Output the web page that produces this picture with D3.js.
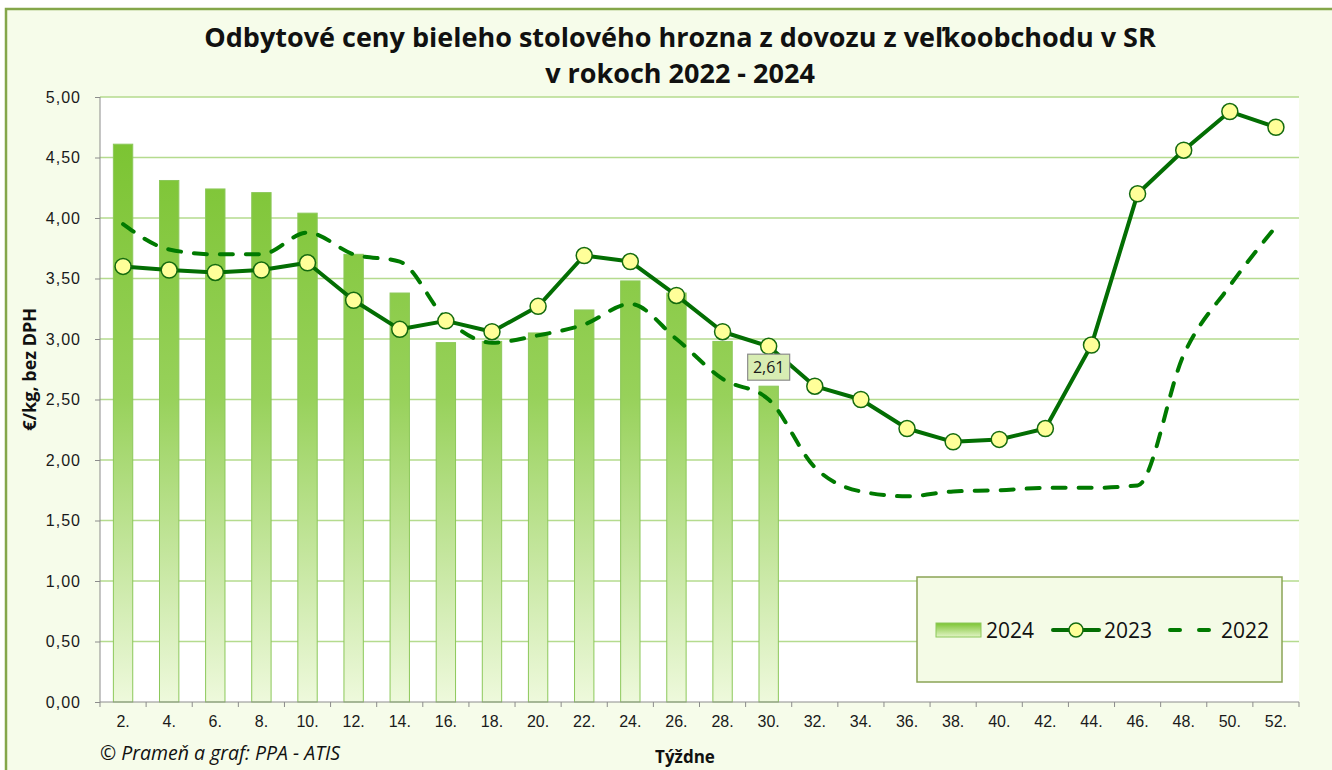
<!DOCTYPE html>
<html>
<head>
<meta charset="UTF-8">
<title>Odbytové ceny bieleho stolového hrozna</title>
<script src="https://cdn.jsdelivr.net/npm/d3@7"></script>
<style>
  body { margin: 0; background: #fff; }
  svg { display: block; font-family: "Open Sans", "Noto Sans", sans-serif; }
</style>
</head>
<body>
<svg width="1332" height="770"></svg>
<script>
// weeks on the x axis
var weeks = ["2.", "4.", "6.", "8.", "10.", "12.", "14.", "16.", "18.", "20.", "22.", "24.", "26.",
             "28.", "30.", "32.", "34.", "36.", "38.", "40.", "42.", "44.", "46.", "48.", "50.", "52."];

// 2024 bars (only up to week 30)
var y2024 = [4.61, 4.31, 4.24, 4.21, 4.04, 3.70, 3.38, 2.97, 2.98, 3.05, 3.24, 3.48, 3.38, 2.98, 2.61];

// 2023 line with markers
var y2023 = [3.60, 3.57, 3.55, 3.57, 3.63, 3.32, 3.08, 3.15, 3.06, 3.27, 3.69, 3.64, 3.36,
             3.06, 2.94, 2.61, 2.50, 2.26, 2.15, 2.17, 2.26, 2.95, 4.20, 4.56, 4.88, 4.75];

// 2022 dashed smooth line
var y2022 = [3.95, 3.74, 3.70, 3.70, 3.88, 3.70, 3.64, 3.17, 2.97, 3.03, 3.12, 3.29, 3.00,
             2.67, 2.50, 1.94, 1.74, 1.70, 1.74, 1.75, 1.77, 1.77, 1.79, 2.87, 3.44, 3.93];

var yTicks = [0, 0.5, 1, 1.5, 2, 2.5, 3, 3.5, 4, 4.5, 5];

var svg = d3.select("svg");
var margin = {left: 100, top: 97, right: 1299, bottom: 702};
var fmt = function(v) { return d3.format(".2f")(v).replace(".", ","); };

// chart area
svg.append("rect")
  .attr("x", 6).attr("y", 9).attr("width", 1340).attr("height", 780)
  .attr("fill", "#f6fcea").attr("stroke", "#84a64a").attr("stroke-width", 2.5);

// plot area
svg.append("rect")
  .attr("x", margin.left).attr("y", margin.top)
  .attr("width", margin.right - margin.left).attr("height", margin.bottom - margin.top)
  .attr("fill", "#ffffff");

var x = d3.scaleBand().domain(weeks).range([margin.left, margin.right]);
var y = d3.scaleLinear().domain([0, 5]).range([margin.bottom, margin.top]);

// gridlines
svg.append("g").selectAll("line")
  .data(yTicks.filter(function(d) { return d > 0; }))
  .enter().append("line")
  .attr("x1", margin.left).attr("x2", margin.right)
  .attr("y1", function(d) { return y(d); }).attr("y2", function(d) { return y(d); })
  .attr("stroke", "#b5db8e").attr("stroke-width", 1.5);

// bar gradient
var defs = svg.append("defs");
var grad = defs.append("linearGradient").attr("id", "barGrad")
  .attr("gradientUnits", "userSpaceOnUse")
  .attr("x1", 0).attr("y1", y(4.6)).attr("x2", 0).attr("y2", y(0));
grad.append("stop").attr("offset", "0%").attr("stop-color", "#7cc433");
grad.append("stop").attr("offset", "45%").attr("stop-color", "#97d15a");
grad.append("stop").attr("offset", "100%").attr("stop-color", "#eef9dc");

var lgGrad = defs.append("linearGradient").attr("id", "legGrad")
  .attr("x1", 0).attr("y1", 0).attr("x2", 0).attr("y2", 1);
lgGrad.append("stop").attr("offset", "0%").attr("stop-color", "#7cc433");
lgGrad.append("stop").attr("offset", "100%").attr("stop-color", "#e2f4c6");

var barW = x.bandwidth() * 0.42;
svg.append("g").selectAll("rect")
  .data(y2024)
  .enter().append("rect")
  .attr("x", function(d, i) { return x(weeks[i]) + (x.bandwidth() - barW) / 2; })
  .attr("y", function(d) { return y(d); })
  .attr("width", barW)
  .attr("height", function(d) { return y(0) - y(d); })
  .attr("fill", "url(#barGrad)")
  .attr("stroke", "#8cc85a").attr("stroke-width", 1);

// axes
var yAxis = svg.append("g")
  .attr("transform", "translate(" + margin.left + ",0)")
  .call(d3.axisLeft(y).tickValues(yTicks).tickFormat(fmt).tickSize(5).tickPadding(14));
yAxis.select(".domain").attr("stroke", "#8c8c8c").attr("d", "M0," + margin.top + "V" + margin.bottom);
yAxis.selectAll(".tick line").attr("stroke", "#8c8c8c");
yAxis.selectAll(".tick text").attr("fill", "#1a1a1a").style("font-size", "16px").style("letter-spacing", "1px");

var xAxis = svg.append("g")
  .attr("transform", "translate(0," + margin.bottom + ")")
  .call(d3.axisBottom(x).tickSize(0).tickPadding(14));
xAxis.select(".domain").attr("stroke", "#8c8c8c").attr("d", "M" + margin.left + ",0H" + margin.right);
xAxis.selectAll(".tick text").attr("fill", "#1a1a1a").style("font-size", "16px");

// x tick marks between categories
svg.append("g").selectAll("line")
  .data(d3.range(weeks.length + 1))
  .enter().append("line")
  .attr("x1", function(i) { return margin.left + i * x.step(); })
  .attr("x2", function(i) { return margin.left + i * x.step(); })
  .attr("y1", margin.bottom).attr("y2", margin.bottom + 5)
  .attr("stroke", "#8c8c8c");

var cx = function(d, i) { return x(weeks[i]) + x.bandwidth() / 2; };
var green = "#007a00";

// 2022 dashed smooth line
svg.append("path")
  .datum(y2022)
  .attr("d", d3.line().x(cx).y(function(d) { return y(d); }).curve(d3.curveMonotoneX))
  .attr("fill", "none").attr("stroke", green).attr("stroke-width", 4)
  .attr("stroke-dasharray", "13,13").attr("stroke-linecap", "round");

// 2023 line
svg.append("path")
  .datum(y2023)
  .attr("d", d3.line().x(cx).y(function(d) { return y(d); }))
  .attr("fill", "none").attr("stroke", "#036e03").attr("stroke-width", 4).attr("stroke-linejoin", "round");

svg.append("g").selectAll("circle")
  .data(y2023)
  .enter().append("circle")
  .attr("cx", cx).attr("cy", function(d) { return y(d); })
  .attr("r", 8)
  .attr("fill", "#ffff99").attr("stroke", "#146b0f").attr("stroke-width", 1.5);

// data label for last 2024 bar
var last = y2024.length - 1;
var lx = cx(null, last), ly = y(y2024[last]) - 19;
svg.append("rect")
  .attr("x", lx - 21).attr("y", ly - 13).attr("width", 42).attr("height", 26)
  .attr("fill", "#d8edb3").attr("stroke", "#8c8c8c").attr("stroke-width", 1.2);
svg.append("text")
  .attr("x", lx).attr("y", ly + 6).attr("text-anchor", "middle")
  .style("font-size", "16px").attr("fill", "#1a1a1a")
  .text(fmt(y2024[last]));

// title
var title = svg.append("text").attr("text-anchor", "middle")
  .style("font-size", "27px").style("font-weight", "bold").attr("fill", "#111");
title.append("tspan").attr("x", 680).attr("y", 47)
  .text("Odbytové ceny bieleho stolového hrozna z dovozu z veľkoobchodu v SR");
title.append("tspan").attr("x", 680).attr("y", 83).text("v rokoch 2022 - 2024");

// axis titles
svg.append("text")
  .attr("transform", "translate(36," + y(2.75) + ") rotate(-90)")
  .attr("text-anchor", "middle")
  .style("font-size", "18px").style("font-weight", "bold").attr("fill", "#111")
  .text("€/kg, bez DPH");

svg.append("text")
  .attr("x", 685).attr("y", 763).attr("text-anchor", "middle")
  .style("font-size", "17px").style("font-weight", "bold").attr("fill", "#111")
  .text("Týždne");

svg.append("text")
  .attr("x", 100).attr("y", 760)
  .style("font-size", "19.5px").style("font-style", "italic").attr("fill", "#111")
  .text("© Prameň a graf: PPA - ATIS");

// legend
var leg = svg.append("g").attr("transform", "translate(917,577)");
leg.append("rect").attr("width", 365).attr("height", 105)
  .attr("fill", "#f4fbe6").attr("stroke", "#8ba456").attr("stroke-width", 1.5);
var ly0 = 53;
leg.append("rect").attr("x", 19).attr("y", ly0 - 7).attr("width", 45).attr("height", 14)
  .attr("fill", "url(#legGrad)").attr("stroke", "#8cc85a");
leg.append("text").attr("x", 69).attr("y", ly0 + 8).style("font-size", "21px").attr("fill", "#111").text("2024");
leg.append("line").attr("x1", 136).attr("x2", 182).attr("y1", ly0).attr("y2", ly0)
  .attr("stroke", "#036e03").attr("stroke-width", 4).attr("stroke-linecap", "round");
leg.append("circle").attr("cx", 159).attr("cy", ly0).attr("r", 7)
  .attr("fill", "#ffff99").attr("stroke", "#146b0f").attr("stroke-width", 1.5);
leg.append("text").attr("x", 187).attr("y", ly0 + 8).style("font-size", "21px").attr("fill", "#111").text("2023");
leg.append("line").attr("x1", 253).attr("x2", 296).attr("y1", ly0).attr("y2", ly0)
  .attr("stroke", green).attr("stroke-width", 4).attr("stroke-linecap", "round")
  .attr("stroke-dasharray", "10,19");
leg.append("text").attr("x", 304).attr("y", ly0 + 8).style("font-size", "21px").attr("fill", "#111").text("2022");
</script>
</body>
</html>
